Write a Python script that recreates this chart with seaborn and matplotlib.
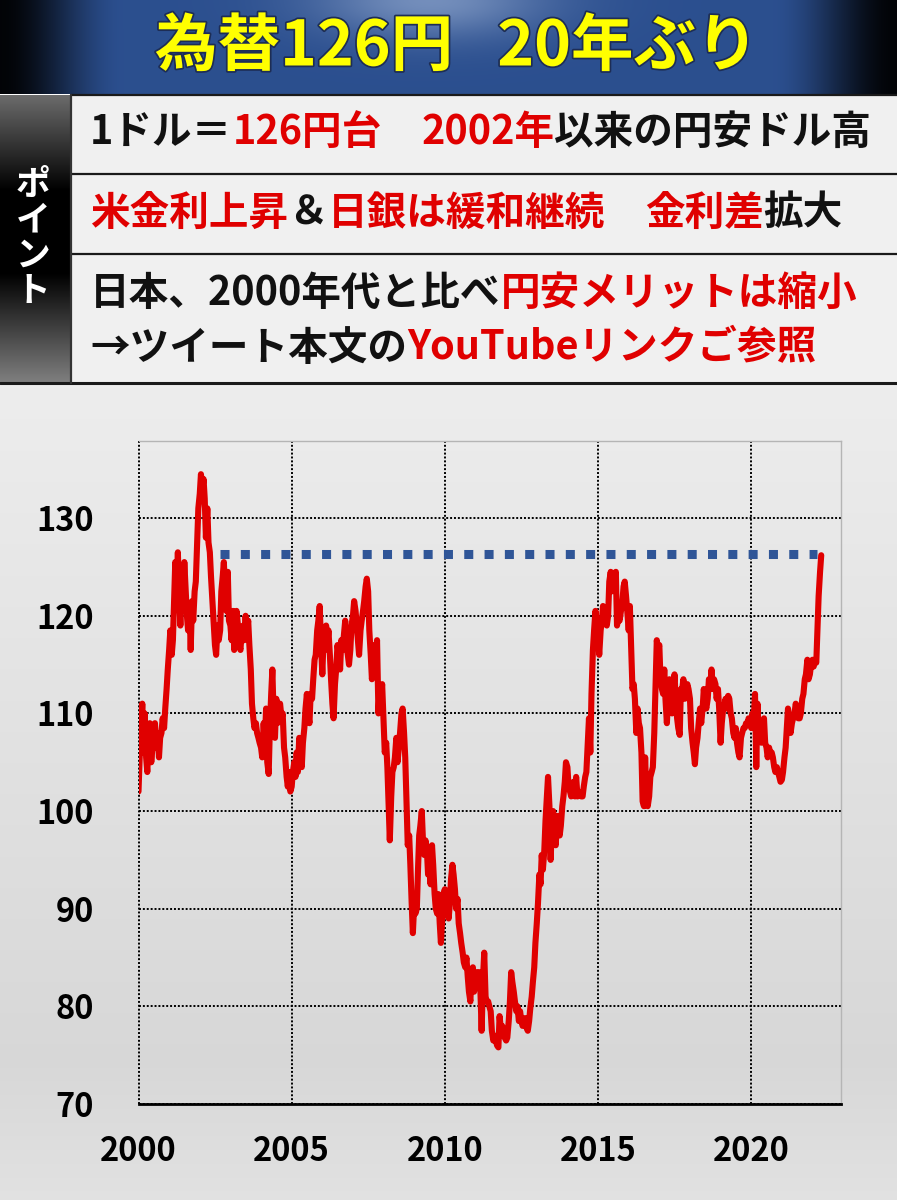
"""USD/JPY since 2000 infographic: 為替126円 20年ぶり"""

import numpy as np
import pandas as pd
import matplotlib

matplotlib.use("Agg")
import matplotlib.pyplot as plt
import matplotlib.patheffects as pe
from matplotlib.patches import Rectangle
import seaborn as sns

# USD/JPY, two readings a month (1st and 15th)
rate_2000 = [102.0, 105.5, 108.5, 111.0, 106.0, 110.0, 105.5, 104.0, 107.5, 109.0, 105.0, 106.5,
             107.5, 109.0, 106.5, 108.0, 105.5, 107.5, 108.0, 109.5, 108.5, 110.5, 112.5, 114.5]
rate_2001 = [116.5, 118.5, 116.0, 117.5, 121.5, 125.5, 123.0, 126.5, 122.0, 119.0, 124.5, 121.0,
             125.5, 123.0, 120.0, 118.5, 121.0, 116.5, 121.5, 119.5, 122.5, 123.5, 127.5, 131.0]
rate_2002 = [132.5, 134.5, 133.0, 134.0, 132.0, 128.0, 131.0, 127.5, 126.5, 124.0, 121.5, 119.5,
             117.0, 116.0, 119.0, 117.5, 118.5, 122.5, 124.0, 125.5, 122.0, 120.5, 124.5, 119.5]
rate_2003 = [119.0, 117.5, 120.5, 116.5, 118.0, 120.5, 119.0, 117.0, 116.5, 118.5, 119.0, 117.5,
             120.0, 118.0, 119.5, 117.0, 114.5, 111.0, 109.5, 108.5, 109.0, 108.0, 107.5, 107.0]
rate_2004 = [106.5, 105.5, 109.0, 107.0, 110.5, 105.0, 103.8, 108.5, 112.0, 114.5, 109.0, 107.5,
             111.5, 109.0, 110.5, 111.0, 109.5, 110.0, 106.5, 105.5, 103.5, 102.5, 104.0, 102.0]
rate_2005 = [102.5, 104.0, 105.0, 103.5, 106.0, 104.0, 107.5, 105.5, 104.5, 107.0, 108.5, 110.5,
             112.0, 110.0, 109.0, 112.0, 111.5, 113.5, 115.5, 116.0, 118.5, 119.5, 121.0, 117.5]
rate_2006 = [114.0, 117.5, 116.5, 119.0, 117.0, 118.5, 116.0, 113.5, 111.0, 109.5, 113.0, 114.5,
             117.0, 116.0, 114.5, 117.5, 116.5, 118.0, 119.5, 117.0, 116.0, 115.0, 116.5, 119.0]
rate_2007 = [120.0, 121.5, 120.5, 119.0, 117.5, 116.0, 118.5, 119.5, 120.5, 121.5, 123.0, 123.8,
             122.5, 118.5, 116.0, 113.5, 115.5, 117.0, 115.0, 117.5, 110.0, 112.5, 111.5, 113.0]
rate_2008 = [109.0, 106.0, 107.0, 104.5, 100.5, 97.0, 101.5, 104.0, 104.5, 105.5, 107.5, 105.0,
             106.5, 108.0, 110.0, 110.5, 108.0, 105.5, 100.5, 96.5, 97.5, 94.5, 90.5, 87.5]
rate_2009 = [90.5, 89.5, 90.0, 94.0, 97.5, 98.5, 100.0, 97.0, 95.5, 97.0, 96.0, 93.5,
             94.0, 92.5, 96.5, 94.5, 91.5, 90.0, 89.5, 91.5, 88.5, 86.5, 89.0, 91.5]
rate_2010 = [92.0, 89.5, 90.5, 89.0, 90.5, 93.0, 94.5, 93.5, 92.0, 90.0, 91.0, 88.5,
             87.5, 86.5, 85.5, 84.5, 84.0, 85.0, 83.0, 81.5, 80.5, 83.5, 84.0, 81.5]
rate_2011 = [82.5, 83.5, 82.0, 83.5, 81.5, 77.5, 83.0, 85.5, 81.0, 80.5, 80.5, 80.0,
             79.5, 77.5, 76.5, 77.0, 76.5, 76.0, 75.8, 79.0, 77.5, 78.0, 77.5, 76.8]
rate_2012 = [76.5, 76.8, 78.5, 80.5, 83.5, 82.5, 81.5, 80.5, 79.5, 80.0, 78.5, 79.5,
             78.5, 78.0, 78.5, 78.8, 77.8, 77.5, 78.5, 79.8, 81.0, 82.5, 84.0, 86.5]
rate_2013 = [88.5, 90.5, 93.5, 92.5, 95.5, 94.0, 96.0, 99.0, 101.5, 103.5, 100.5, 95.0,
             98.5, 100.0, 97.5, 96.5, 99.5, 98.5, 97.5, 98.5, 100.5, 101.5, 103.0, 105.0]
rate_2014 = [104.5, 102.5, 102.0, 101.5, 102.5, 103.0, 101.5, 103.5, 101.5, 102.0, 101.8, 101.5,
             101.5, 102.5, 103.5, 104.0, 107.0, 109.5, 106.0, 112.0, 116.5, 118.5, 120.5, 119.5]
rate_2015 = [118.0, 116.0, 118.5, 119.5, 121.0, 120.0, 119.5, 119.0, 120.0, 123.5, 124.5, 122.5,
             123.5, 124.0, 124.5, 119.0, 120.0, 119.5, 120.5, 121.0, 123.0, 123.5, 122.0, 120.5]
rate_2016 = [118.5, 121.0, 116.5, 112.5, 113.0, 111.5, 108.0, 110.5, 109.0, 108.5, 106.0, 101.0,
             100.5, 105.5, 101.0, 100.5, 101.5, 103.5, 104.0, 104.5, 108.0, 112.5, 117.5, 116.5]
rate_2017 = [117.0, 113.5, 112.5, 112.0, 114.5, 111.5, 109.0, 111.5, 113.5, 111.0, 110.0, 112.0,
             114.0, 111.5, 109.5, 108.5, 107.8, 112.5, 112.5, 113.5, 111.5, 112.5, 113.0, 112.5]
rate_2018 = [111.5, 108.5, 107.0, 106.0, 104.8, 106.5, 107.5, 109.0, 110.5, 109.0, 110.5, 112.5,
             111.0, 110.5, 111.5, 113.5, 112.5, 114.5, 112.5, 113.5, 113.0, 111.5, 112.5, 110.5]
rate_2019 = [107.0, 109.0, 110.5, 110.8, 111.5, 110.5, 111.8, 111.5, 110.0, 109.5, 108.0, 107.5,
             108.5, 107.0, 106.0, 105.5, 107.5, 108.0, 108.5, 108.5, 109.0, 108.8, 109.5, 109.0]
rate_2020 = [108.5, 110.0, 109.5, 112.0, 104.5, 111.0, 107.5, 108.0, 107.0, 107.5, 109.5, 107.0,
             106.5, 105.5, 106.5, 105.8, 106.0, 105.5, 104.5, 104.0, 104.5, 104.0, 103.5, 103.0]
rate_2021 = [103.2, 104.0, 105.5, 106.5, 108.5, 110.5, 109.5, 108.0, 109.0, 109.5, 110.0, 111.0,
             110.5, 109.5, 109.5, 110.0, 111.5, 112.0, 113.5, 114.0, 115.5, 113.5, 114.0, 115.0]
rate_2022 = [115.5, 114.8, 115.5, 115.2, 118.5, 122.0, 124.5, 126.2]

yearly_rates = {
    2000: rate_2000, 2001: rate_2001, 2002: rate_2002, 2003: rate_2003, 2004: rate_2004,
    2005: rate_2005, 2006: rate_2006, 2007: rate_2007, 2008: rate_2008, 2009: rate_2009,
    2010: rate_2010, 2011: rate_2011, 2012: rate_2012, 2013: rate_2013, 2014: rate_2014,
    2015: rate_2015, 2016: rate_2016, 2017: rate_2017, 2018: rate_2018, 2019: rate_2019,
    2020: rate_2020, 2021: rate_2021, 2022: rate_2022,
}

# dotted line at today's level, back to the 2002 crossing
ref_level = 126.3
ref_span = [2002.66, 2022.14]

x_ticks = [2000, 2005, 2010, 2015, 2020]
y_ticks = [70, 80, 90, 100, 110, 120, 130]

title = "為替126円\u2002 20年ぶり"
side_label = "ポイント"

RED = "#e00000"
INK = "#111111"
BLUE = "#2f5597"

row1 = [("1ドル＝", INK), ("126円台", RED), ("　", None), ("2002年", RED), ("以来の円安ドル高", INK)]
row2 = [("米金利上昇", RED), ("＆", INK), ("日銀は緩和継続", RED), ("　", None), ("金利差", RED), ("拡大", INK)]
row3a = [("日本、2000年代と比べ", INK), ("円安メリットは縮小", RED)]
row3b = [("→ツイート本文の", INK), ("YouTubeリンクご参照", RED)]

# ---- data frame -----------------------------------------------------------
frames = []
for year, vals in yearly_rates.items():
    d = pd.date_range(f"{year}-01-01", periods=len(vals), freq="SMS")
    frames.append(pd.DataFrame({"date": d, "rate": vals}))
fx = pd.concat(frames, ignore_index=True)
fx["year"] = fx["date"].dt.year + (fx["date"].dt.dayofyear - 1) / 365.25


def gray_strip(levels):
    """column of gray levels -> (n, 2, 3) rgb image"""
    return np.stack([levels, levels, levels], axis=-1)[:, None, :].repeat(2, axis=1)


# ---- figure ---------------------------------------------------------------
sns.set_style("white")
plt.rcParams["font.family"] = ["Noto Sans CJK JP", "DejaVu Sans"]

W, H = 897, 1200
fig = plt.figure(figsize=(W / 100, H / 100), dpi=100)

lay = fig.add_axes([0, 0, 1, 1], zorder=0)
lay.set_xlim(0, W)
lay.set_ylim(H, 0)
lay.axis("off")

# chart area background, darkening toward the bottom
g = np.interp(np.arange(383, H), [383, 1060, H], [0.93, 0.845, 0.885])
lay.imshow(gray_strip(g), extent=(0, W, H, 383), aspect="auto", interpolation="bilinear")

# header band: navy, dark at the sides, light glow at top centre
xs = np.linspace(0, 1, W)
ys = np.linspace(0, 1, 94)
edge = np.clip(np.minimum(xs, 1 - xs) / 0.14, 0, 1)
edge = edge * edge * (3 - 2 * edge)
base = np.array([0.17, 0.31, 0.56])
head = base[None, None, :] * (0.05 + 0.95 * edge)[None, :, None] * np.ones((94, 1, 1))
glow = np.exp(-((xs[None, :] - 0.48) / 0.13) ** 2 - (ys[:, None] / 0.4) ** 2) * 0.45
head = head + glow[..., None] * (np.array([0.8, 0.86, 0.95]) - head)
lay.imshow(np.clip(head, 0, 1), extent=(0, W, 94, 0), aspect="auto", interpolation="bilinear")

# title: "為替126円" and "20年ぶり" placed side by side with a fixed gap
t1 = lay.text(155, 47, title.split("\u2002 ")[0], ha="left", va="center", fontsize=45,
              fontweight="bold", color="#ffff00",
              path_effects=[pe.withStroke(linewidth=2.5, foreground="#1d2d55")])
renderer = fig.canvas.get_renderer()
x_end = t1.get_window_extent(renderer=renderer).x1
lay.text(x_end + 44, 47, title.split("\u2002 ")[1], ha="left", va="center", fontsize=45,
         fontweight="bold", color="#ffff00",
         path_effects=[pe.withStroke(linewidth=2.5, foreground="#1d2d55")])

# table
lay.add_patch(Rectangle((71, 95), W - 71, 288, facecolor="#f0f0f0", edgecolor="none"))
col = np.interp(np.linspace(0, 1, 289), [0, 0.33, 0.62, 1], [0.42, 0.0, 0.0, 0.5])
lay.imshow(gray_strip(col), extent=(0, 71, 383, 95), aspect="auto", interpolation="bilinear")
for yy in [95, 174, 254]:
    lay.plot([71, W], [yy, yy], color="#1a1a1a", lw=1.6)
lay.plot([0, W], [383, 383], color="#1a1a1a", lw=2.2)
lay.plot([71, 71], [95, 383], color="#333333", lw=1.6)

for i, ch in enumerate(side_label):
    lay.text(33, 184 + 35.5 * i, ch, ha="center", va="center", fontsize=25,
             fontweight="bold", color="white")

ROW_SIZE = 28.5


def put_segments(segments, x0, y):
    x = x0
    for txt, color in segments:
        if color is None:
            x += ROW_SIZE * 100 / 72
            continue
        t = lay.text(x, y, txt, ha="left", va="center", fontsize=ROW_SIZE,
                     fontweight="bold", color=color)
        x = t.get_window_extent(renderer=renderer).x1


put_segments(row1, 90, 132)
put_segments(row2, 90, 213)
put_segments(row3a, 90, 293)
put_segments(row3b, 90, 348)

# ---- line chart -----------------------------------------------------------
ax = fig.add_axes([138.5 / W, 96 / H, 702.5 / W, 663 / H], zorder=2)
ax.set_facecolor("none")

sns.lineplot(x=ref_span, y=[ref_level, ref_level], ax=ax, color=BLUE, linewidth=6.5,
             linestyle=(0, (1, 1.25)), zorder=3)
sns.lineplot(data=fx, x="year", y="rate", ax=ax, color=RED, linewidth=4.4,
             sort=False, zorder=4)

ax.set_xlim(2000, 2022.93)
ax.set_ylim(70, 137.9)
ax.set_xticks(x_ticks)
ax.set_yticks(y_ticks)
ax.set_xlabel("")
ax.set_ylabel("")
ax.grid(True, color="black", linestyle=(0, (1, 1)), linewidth=1.4)
for gl in ax.get_xgridlines():
    gl.set_clip_on(False)
ax.tick_params(length=0, labelsize=23.5, labelcolor="black")
ax.tick_params(axis="y", pad=32)
ax.tick_params(axis="x", pad=22)
for lab in ax.get_xticklabels() + ax.get_yticklabels():
    lab.set_fontweight("bold")

ax.spines["left"].set_visible(False)
ax.spines["bottom"].set_color("black")
ax.spines["bottom"].set_linewidth(2)
for s in ["top", "right"]:
    ax.spines[s].set_color("#b5b5b5")
    ax.spines[s].set_linewidth(1)

fig.savefig("out.png", dpi=100)
